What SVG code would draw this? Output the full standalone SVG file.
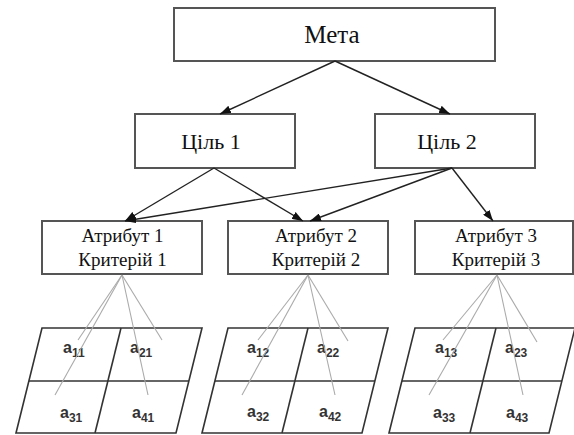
<svg xmlns="http://www.w3.org/2000/svg" width="574" height="435" viewBox="0 0 574 435">
  <defs>
    <marker id="arr" markerUnits="userSpaceOnUse" markerWidth="11" markerHeight="8" refX="11" refY="4" orient="auto">
      <path d="M0,0 L11,4 L0,8 z" fill="#111"/>
    </marker>
    <style>
      .box { fill: #fff; stroke: #555; stroke-width: 2; }
      .t { font-family: 'Liberation Serif', 'DejaVu Serif', 'Times New Roman', serif; fill: #111; text-anchor: middle; }
      .arrow { stroke: #222; stroke-width: 1.4; fill: none; marker-end: url(#arr); }
      .thin { stroke: #aaa; stroke-width: 1.1; fill: none; }
      .grid { stroke: #333; stroke-width: 1.6; fill: #fff; }
      .a { font-family: 'Liberation Sans', Arial, sans-serif; font-size: 16px; font-weight: bold; fill: #333; }
      .s { font-size: 12px; }
    </style>
  </defs>
  <rect width="574" height="435" fill="#fff"/>

  <g id="meta">
    <rect class="box" x="174" y="8" width="321" height="53"/>
    <text class="t" x="332" y="43" font-size="25">Мета</text>
  </g>
  <g id="goal1">
    <rect class="box" x="135" y="114" width="160" height="54"/>
    <text class="t" x="211" y="149" font-size="22">Ціль 1</text>
  </g>
  <g id="goal2">
    <rect class="box" x="375" y="114" width="160" height="54"/>
    <text class="t" x="447" y="149" font-size="22">Ціль 2</text>
  </g>
  <g id="attr1">
    <rect class="box" x="42" y="221" width="160" height="53"/>
    <text class="t" x="122.5" y="242" font-size="19">Атрибут 1</text>
    <text class="t" x="122.5" y="266" font-size="19">Критерій 1</text>
  </g>
  <g id="attr2">
    <rect class="box" x="228" y="221" width="160" height="53"/>
    <text class="t" x="316" y="242" font-size="19">Атрибут 2</text>
    <text class="t" x="316" y="266" font-size="19">Критерій 2</text>
  </g>
  <g id="attr3">
    <rect class="box" x="415" y="221" width="158" height="53"/>
    <text class="t" x="496" y="242" font-size="19">Атрибут 3</text>
    <text class="t" x="496" y="266" font-size="19">Критерій 3</text>
  </g>

  <g id="matrix1">
    <polygon class="grid" points="42,328 202,328 176,433 16,433"/>
    <line class="grid" x1="29" y1="381" x2="189" y2="381"/>
    <line class="grid" x1="121" y1="328" x2="95" y2="433"/>
    <text class="a" x="63" y="353">a<tspan class="s" dy="4">11</tspan></text>
    <text class="a" x="130" y="353">a<tspan class="s" dy="4">21</tspan></text>
    <text class="a" x="60" y="418">a<tspan class="s" dy="4">31</tspan></text>
    <text class="a" x="132" y="418">a<tspan class="s" dy="4">41</tspan></text>
  </g>
  <g id="matrix2">
    <polygon class="grid" points="228,328 388,328 362,433 202,433"/>
    <line class="grid" x1="215" y1="381" x2="375" y2="381"/>
    <line class="grid" x1="308" y1="328" x2="282" y2="433"/>
    <text class="a" x="247" y="353">a<tspan class="s" dy="4">12</tspan></text>
    <text class="a" x="317" y="353">a<tspan class="s" dy="4">22</tspan></text>
    <text class="a" x="247" y="417">a<tspan class="s" dy="4">32</tspan></text>
    <text class="a" x="319" y="417">a<tspan class="s" dy="4">42</tspan></text>
  </g>
  <g id="matrix3">
    <polygon class="grid" points="415,328 575,328 549,433 389,433"/>
    <line class="grid" x1="402" y1="381" x2="562" y2="381"/>
    <line class="grid" x1="496" y1="328" x2="470" y2="433"/>
    <text class="a" x="435" y="353">a<tspan class="s" dy="4">13</tspan></text>
    <text class="a" x="505" y="353">a<tspan class="s" dy="4">23</tspan></text>
    <text class="a" x="433" y="418">a<tspan class="s" dy="4">33</tspan></text>
    <text class="a" x="506" y="418">a<tspan class="s" dy="4">43</tspan></text>
  </g>

  <g id="connectors">
    <line class="arrow" x1="335" y1="61" x2="220" y2="114"/>
    <line class="arrow" x1="335" y1="61" x2="450" y2="114"/>
    <line class="arrow" x1="214" y1="168" x2="125" y2="221"/>
    <line class="arrow" x1="214" y1="168" x2="303" y2="221"/>
    <line class="arrow" x1="452" y1="168" x2="125" y2="221"/>
    <line class="arrow" x1="452" y1="168" x2="310" y2="221"/>
    <line class="arrow" x1="452" y1="168" x2="493" y2="221"/>

    <line class="thin" x1="122" y1="275" x2="78" y2="340"/>
    <line class="thin" x1="122" y1="275" x2="55" y2="395"/>
    <line class="thin" x1="122" y1="275" x2="148" y2="395"/>
    <line class="thin" x1="122" y1="275" x2="162" y2="340"/>

    <line class="thin" x1="308" y1="275" x2="258" y2="340"/>
    <line class="thin" x1="308" y1="275" x2="242" y2="395"/>
    <line class="thin" x1="308" y1="275" x2="335" y2="395"/>
    <line class="thin" x1="308" y1="275" x2="348" y2="341"/>

    <line class="thin" x1="497" y1="275" x2="443" y2="340"/>
    <line class="thin" x1="497" y1="275" x2="429" y2="395"/>
    <line class="thin" x1="497" y1="275" x2="523" y2="395"/>
    <line class="thin" x1="497" y1="275" x2="537" y2="342"/>
  </g>
</svg>
